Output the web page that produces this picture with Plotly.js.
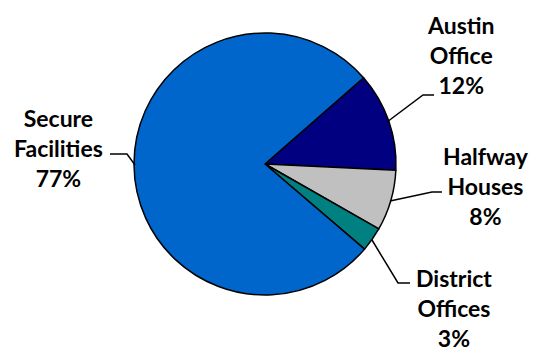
<!DOCTYPE html>
<html><head><meta charset="utf-8">
<script src="https://cdn.plot.ly/plotly-3.0.1.min.js"></script>
<style>html,body{margin:0;padding:0;background:#fff}#chart{width:533px;height:352px}</style>
</head><body><div id="chart"></div>
<script>
const categories = ["Austin Office", "Halfway Houses", "District Offices", "Secure Facilities"];
const labelText = ["Austin<br>Office<br>12%", "Halfway<br>Houses<br>8%", "District<br>Offices<br>3%", "Secure<br>Facilities<br>77%"];
const shares = [12.2, 7.5, 3.0, 77.3];
const colors = ["#000080", "#C0C0C0", "#008080", "#0066CC"];

const W = 533, H = 352;
const px = x => x / W, py = y => 1 - y / H;

const cx = 265, cy = 164, r = 131;
const labelPos = [[461, 55], [486, 186], [454, 308], [58, 148]];
const leaders = [
  [[387,122],[423,95],[434,95]],
  [[390,201],[432,192],[442,192]],
  [[372,240],[398,283],[410,283]],
  [[135,165],[127,154],[110,154]]
];

const trace = {
  type: "pie",
  labels: categories,
  values: shares,
  sort: false,
  direction: "clockwise",
  rotation: 48.8,
  textinfo: "none",
  hoverinfo: "label+percent",
  marker: {colors: colors, line: {color: "#000", width: 1.5}},
  domain: {x: [px(cx - r), px(cx + r)], y: [py(cy + r), py(cy - r)]},
  showlegend: false
};

const annotations = categories.map((c, i) => ({
  xref: "paper", yref: "paper",
  x: px(labelPos[i][0]), y: py(labelPos[i][1]),
  xanchor: "center", yanchor: "middle",
  text: "<b>" + labelText[i] + "</b>",
  showarrow: false, align: "center",
  font: {family: "Lato, 'Open Sans', sans-serif", size: 23, color: "#000"}
}));

const shapes = leaders.map(pts => ({
  type: "path", xref: "paper", yref: "paper",
  path: "M" + pts.map(p => px(p[0]) + "," + py(p[1])).join(" L"),
  line: {color: "#000", width: 1.5}
}));

Plotly.newPlot("chart", [trace], {
  width: W, height: H,
  margin: {l: 0, r: 0, t: 0, b: 0},
  paper_bgcolor: "#fff",
  annotations: annotations,
  shapes: shapes
}, {displayModeBar: false, staticPlot: true});
</script></body></html>
